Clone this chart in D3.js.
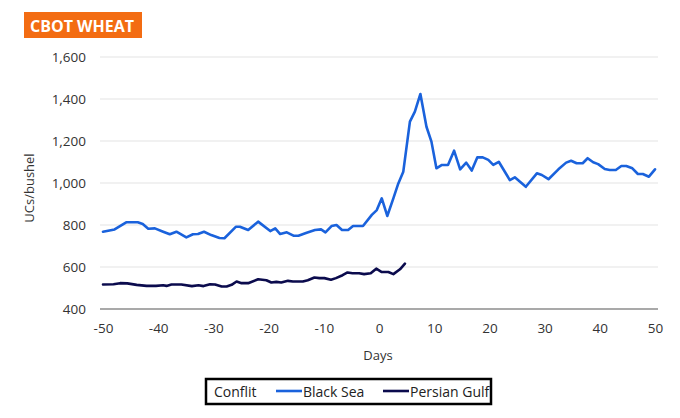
<!DOCTYPE html>
<html>
<head>
<meta charset="utf-8">
<script src="https://cdn.jsdelivr.net/npm/d3@7"></script>
<style>
  html, body { margin: 0; padding: 0; background: #fff; }
  svg { display: block; font-family: "Open Sans", "Noto Sans", sans-serif; }
</style>
</head>
<body>
<svg id="chart" width="680" height="418"></svg>
<script>
// ---- Data ----
const title = "CBOT WHEAT";
const yLabel = "UCs/bushel";
const xLabel = "Days";
const legendTitle = "Conflit";
const seriesNames = ["Black Sea", "Persian Gulf"];
const seriesColors = ["#1a62dc", "#0b0b4d"];

const xTicks = [-50, -40, -30, -20, -10, 0, 10, 20, 30, 40, 50];
const yTicks = [400, 600, 800, 1000, 1200, 1400, 1600];

const blackSeaDays = [-50, -47.9, -45.8, -43.7, -42.8, -41.8, -40.6, -39.1, -37.9, -36.7, -34.9, -33.7, -32.8, -31.7, -30.4, -28.9, -28.0, -25.9, -25.2, -23.7, -21.9, -19.7, -18.8, -17.9, -16.7, -15.5, -14.6, -13.1, -11.6, -10.5, -9.7, -8.6, -7.7, -6.7, -5.6, -4.7, -2.9, -1.3, -0.4, 0.5, 1.5, 2.6, 3.5, 4.4, 5.6, 6.5, 7.5, 8.6, 9.5, 10.4, 11.4, 12.5, 13.6, 14.7, 15.8, 16.8, 17.8, 18.8, 19.8, 20.7, 21.7, 23.7, 24.6, 26.6, 28.6, 29.5, 30.7, 32.5, 33.9, 34.8, 35.8, 36.9, 37.8, 38.8, 39.7, 40.9, 41.8, 42.9, 43.9, 44.8, 45.9, 46.9, 47.8, 48.9, 50];
const blackSeaValues = [768, 779, 813, 813, 805, 782, 784, 768, 756, 768, 741, 756, 757, 768, 752, 738, 737, 792, 792, 776, 816, 771, 784, 757, 765, 749, 749, 763, 776, 779, 765, 795, 800, 776, 776, 795, 795, 848, 871, 927, 843, 927, 998, 1054, 1292, 1340, 1424, 1268, 1197, 1070, 1086, 1086, 1154, 1065, 1097, 1059, 1122, 1122, 1110, 1086, 1101, 1014, 1027, 982, 1046, 1038, 1018, 1065, 1097, 1106, 1094, 1094, 1118, 1099, 1090, 1067, 1062, 1062, 1081, 1081, 1070, 1043, 1043, 1030, 1065];

const gulfDays = [-50, -48.1, -46.9, -45.6, -43.9, -42.1, -40.4, -39.1, -38.5, -37.6, -35.8, -33.9, -32.7, -31.8, -30.6, -29.7, -28.5, -27.6, -26.7, -25.8, -24.9, -23.7, -21.9, -20.4, -19.5, -18.6, -17.7, -16.5, -15.6, -13.8, -12.9, -11.7, -10.8, -9.9, -8.7, -7.8, -6.6, -5.7, -4.8, -3.6, -2.7, -1.5, -0.5, 0.5, 1.7, 2.6, 3.8, 4.7];
const gulfValues = [517, 518, 523, 522, 515, 510, 510, 513, 510, 517, 517, 509, 513, 509, 518, 517, 507, 507, 515, 531, 523, 523, 542, 537, 526, 529, 526, 534, 531, 531, 537, 550, 547, 547, 539, 547, 561, 574, 570, 570, 566, 570, 592, 576, 576, 566, 589, 616];

// ---- Layout ----
const svg = d3.select("#chart");
const x = d3.scaleLinear().domain([-50, 50]).range([103, 655]);
const y = d3.scaleLinear().domain([400, 1600]).range([309, 57]);

// Title box
svg.append("rect").attr("x", 24).attr("y", 12).attr("width", 118).attr("height", 26).attr("fill", "#f36c12");
svg.append("text").attr("x", 82).attr("y", 31.5).attr("text-anchor", "middle")
  .attr("fill", "#fff").attr("font-size", 16).attr("font-weight", "bold").text(title);

// Gridlines
svg.append("g").selectAll("line").data(yTicks.filter(d => d !== 400)).join("line")
  .attr("x1", 100).attr("x2", 658)
  .attr("y1", d => y(d)).attr("y2", d => y(d))
  .attr("stroke", "#e3e3e3").attr("stroke-width", 1);

// Axis baseline
svg.append("line").attr("x1", 100).attr("x2", 658).attr("y1", y(400)).attr("y2", y(400))
  .attr("stroke", "#8c8c8c").attr("stroke-width", 1.3);

// Y tick labels via axis
const yAxis = svg.append("g").attr("transform", "translate(100,0)")
  .call(d3.axisLeft(y).tickValues(yTicks).tickSize(0).tickPadding(14).tickFormat(d3.format(",")));
yAxis.select(".domain").remove();
yAxis.selectAll("text").attr("font-size", 13.5).attr("fill", "#333").attr("font-family", "Open Sans, sans-serif");

// X tick labels via axis
const xAxis = svg.append("g").attr("transform", `translate(0,${y(400)})`)
  .call(d3.axisBottom(x).tickValues(xTicks).tickSize(0).tickPadding(14).tickFormat(d => String(d)));
xAxis.select(".domain").remove();
xAxis.selectAll("text").attr("font-size", 13.5).attr("fill", "#333").attr("font-family", "Open Sans, sans-serif");

// Axis titles
svg.append("text").attr("transform", "translate(34,188) rotate(-90)").attr("text-anchor", "middle")
  .attr("font-size", 13).attr("fill", "#333").text(yLabel);
svg.append("text").attr("x", 378).attr("y", 360).attr("text-anchor", "middle")
  .attr("font-size", 13).attr("fill", "#333").text(xLabel);

// Lines
const line = d3.line().x(d => x(d[0])).y(d => y(d[1]));
const series = [
  d3.zip(blackSeaDays, blackSeaValues),
  d3.zip(gulfDays, gulfValues)
];
svg.append("g").selectAll("path").data(series).join("path")
  .attr("d", line)
  .attr("fill", "none")
  .attr("stroke", (d, i) => seriesColors[i])
  .attr("stroke-width", 2.6)
  .attr("stroke-linejoin", "round")
  .attr("stroke-linecap", "round");

// Legend
const lg = svg.append("g");
lg.append("rect").attr("x", 206).attr("y", 379).attr("width", 285).attr("height", 25)
  .attr("fill", "#fff").attr("stroke", "#000").attr("stroke-width", 2.5);
lg.append("text").attr("x", 214).attr("y", 396.5).attr("font-size", 14).attr("fill", "#222").text(legendTitle);
const legendX = [276, 383];
seriesNames.forEach((name, i) => {
  lg.append("line").attr("x1", legendX[i]).attr("x2", legendX[i] + 26).attr("y1", 391).attr("y2", 391)
    .attr("stroke", seriesColors[i]).attr("stroke-width", 2.6);
  lg.append("text").attr("x", legendX[i] + 27).attr("y", 396.5).attr("font-size", 14).attr("fill", "#222").text(name);
});
</script>
</body>
</html>
